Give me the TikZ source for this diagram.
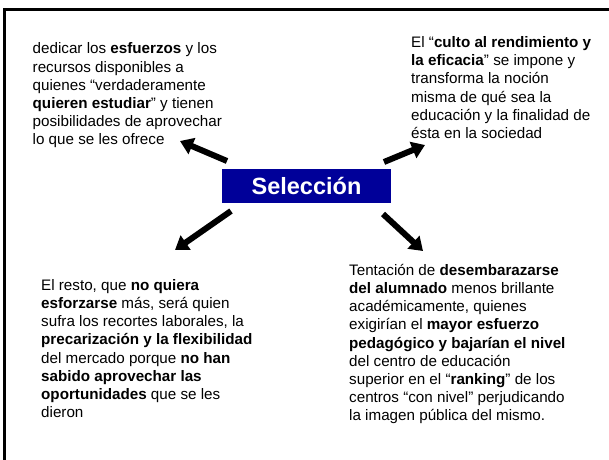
\documentclass[tikz,border=0pt]{standalone}
\usepackage{fontspec}
\setmainfont{Liberation Sans}
\usetikzlibrary{arrows.meta}
\definecolor{selblue}{RGB}{0,0,153}
\tikzset{
  txt/.style={anchor=north west, inner sep=0pt, align=left, font=\fontsize{15.2}{18.2}\selectfont},
  bigarrow/.style={line width=6pt, -{Triangle[length=13pt,width=17pt]}},
  selbox/.style={fill=selblue, text=white, font=\fontsize{23.5}{26}\selectfont\bfseries, minimum width=169pt, minimum height=34pt, inner sep=0pt},
  frame/.style={line width=3pt, line cap=rect}
}
\begin{document}
\begin{tikzpicture}[x=1pt,y=-1pt]
\useasboundingbox (0,0) rectangle (609,459);
\draw[frame] (4.5,462) -- (4.5,9.5) -- (612,9.5);
\node[selbox] (sel) at (306.5,186) {Selección};
\node[txt] (tl) at (32.5,42.6) {dedicar los \textbf{esfuerzos} y los\\recursos disponibles a\\quienes “verdaderamente\\\textbf{quieren estudiar}” y tienen\\posibilidades de aprovechar\\lo que se les ofrece};
\node[txt] (tr) at (411,36.3) {El “\textbf{culto al rendimiento y}\\\textbf{la eficacia}” se impone y\\transforma la noción\\misma de qué sea la\\educación y la finalidad de\\ésta en la sociedad};
\node[txt] (bl) at (41,279.1) {El resto, que \textbf{no quiera}\\\textbf{esforzarse} más, será quien\\sufra los recortes laborales, la\\\textbf{precarización y la flexibilidad}\\del mercado porque \textbf{no han}\\\textbf{sabido aprovechar las}\\\textbf{oportunidades} que se les\\dieron};
\node[txt] (br) at (349,263.8) {Tentación de \textbf{desembarazarse}\\\textbf{del alumnado} menos brillante\\académicamente, quienes\\exigirían el \textbf{mayor esfuerzo}\\\textbf{pedagógico y bajarían el nivel}\\del centro de educación\\superior en el “\textbf{ranking}” de los\\centros “con nivel” perjudicando\\la imagen pública del mismo.};
\coordinate (ult) at (227,161);
\coordinate (uls) at (180,141);
\coordinate (urt) at (384,162);
\coordinate (urs) at (425,145);
\coordinate (llt) at (231,211);
\coordinate (lls) at (175,250);
\coordinate (lrt) at (383,214);
\coordinate (lrs) at (423,251);
\draw[bigarrow] (ult) -- (uls);
\draw[bigarrow] (urt) -- (urs);
\draw[bigarrow] (llt) -- (lls);
\draw[bigarrow] (lrt) -- (lrs);
\end{tikzpicture}
\end{document}
